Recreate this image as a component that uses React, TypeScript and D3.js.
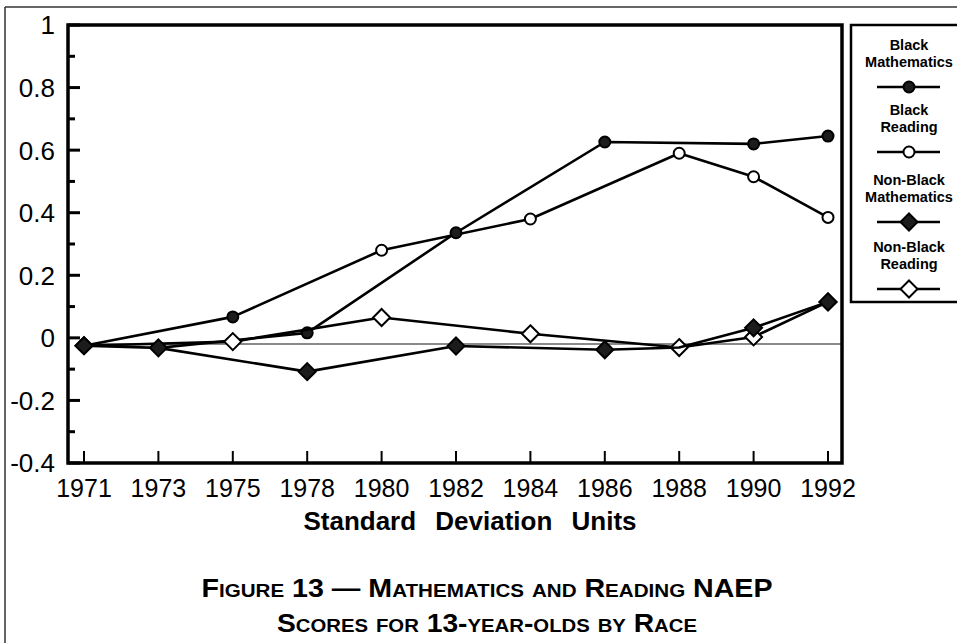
import React, { useEffect, useRef } from "react";
import * as d3 from "d3";

const years = ["1971", "1973", "1975", "1978", "1980", "1982", "1984", "1986", "1988", "1990", "1992"];

const blackMath = [null, -0.032, null, 0.016, null, 0.336, null, 0.626, null, 0.62, 0.645];
const blackReading = [-0.025, null, 0.067, null, 0.28, null, 0.38, null, 0.59, 0.515, 0.385];
const nonBlackMath = [-0.025, -0.032, null, -0.108, null, -0.026, null, -0.038, -0.031, 0.032, 0.115];
const nonBlackReading = [-0.025, null, -0.012, null, 0.065, null, 0.013, null, -0.031, 0.003, 0.115];

// odd marks in the original figure
const blackReadingFilledYears = ["1975"];
const nonBlackMathUnmarkedYears = ["1988"];

const baselineValue = -0.02;

const yMajorTicks = [1, 0.8, 0.6, 0.4, 0.2, 0, -0.2, -0.4];
const yMinorTicks = [0.9, 0.7, 0.5, 0.3, 0.1, -0.1, -0.3];
const yTickLabels = ["1", "0.8", "0.6", "0.4", "0.2", "0", "-0.2", "-0.4"];

const series = [
  { name: "Black Reading", values: blackReading, shape: "circle", filled: false },
  { name: "Black Mathematics", values: blackMath, shape: "circle", filled: true },
  { name: "Non-Black Reading", values: nonBlackReading, shape: "diamond", filled: false },
  { name: "Non-Black Mathematics", values: nonBlackMath, shape: "diamond", filled: true },
];

const legendItems = [
  { lines: ["Black", "Mathematics"], shape: "circle", filled: true },
  { lines: ["Black", "Reading"], shape: "circle", filled: false },
  { lines: ["Non-Black", "Mathematics"], shape: "diamond", filled: true },
  { lines: ["Non-Black", "Reading"], shape: "diamond", filled: false },
];

const font = "'Liberation Sans', Arial, Helvetica, sans-serif";

function drawMarker(g, shape, filled, x, y) {
  const fill = filled ? "#1c1c1c" : "#fff";
  if (shape === "circle") {
    g.append("circle")
      .attr("cx", x)
      .attr("cy", y)
      .attr("r", 5.5)
      .attr("fill", fill)
      .attr("stroke", "#000")
      .attr("stroke-width", 2);
  } else {
    const s = 8.5;
    g.append("path")
      .attr("d", `M${x},${y - s}L${x + s},${y}L${x},${y + s}L${x - s},${y}Z`)
      .attr("fill", fill)
      .attr("stroke", "#000")
      .attr("stroke-width", 2);
  }
}

function Chart() {
  const svgRef = useRef();

  useEffect(() => {
    const svg = d3.select(svgRef.current);
    svg.selectAll("*").remove();

    const left = 68;
    const right = 842;
    const top = 25;
    const bottom = 463;

    const x = d3.scalePoint().domain(years).range([left + 16, right - 14]);
    const y = d3.scaleLinear().domain([-0.4, 1]).range([bottom, top]);

    // outer page frame
    svg.append("line").attr("x1", 5).attr("x2", 957).attr("y1", 7).attr("y2", 7)
      .attr("stroke", "#333").attr("stroke-width", 1.5);
    svg.append("line").attr("x1", 5).attr("x2", 5).attr("y1", 7).attr("y2", 643)
      .attr("stroke", "#333").attr("stroke-width", 1.5);

    // gray reference line
    svg.append("line")
      .attr("x1", x("1971"))
      .attr("x2", right)
      .attr("y1", y(baselineValue))
      .attr("y2", y(baselineValue))
      .attr("stroke", "#8a8a8a")
      .attr("stroke-width", 2);

    const line = d3
      .line()
      .defined((d) => d.v !== null)
      .x((d) => x(d.year))
      .y((d) => y(d.v));

    series.forEach((s) => {
      const pts = s.values.map((v, i) => ({ year: years[i], v })).filter((d) => d.v !== null);
      svg.append("path")
        .attr("d", line(pts))
        .attr("fill", "none")
        .attr("stroke", "#000")
        .attr("stroke-width", 2.6)
        .attr("stroke-linejoin", "round");
      const mg = svg.append("g");
      pts.forEach((d) => {
        if (s.name === "Non-Black Mathematics" && nonBlackMathUnmarkedYears.includes(d.year)) return;
        let filled = s.filled;
        if (s.name === "Black Reading" && blackReadingFilledYears.includes(d.year)) filled = true;
        drawMarker(mg, s.shape, filled, x(d.year), y(d.v));
      });
    });

    // plot frame
    svg.append("rect")
      .attr("x", left)
      .attr("y", top)
      .attr("width", right - left)
      .attr("height", bottom - top)
      .attr("fill", "none")
      .attr("stroke", "#000")
      .attr("stroke-width", 3.5);

    // y ticks
    yMajorTicks.forEach((t, i) => {
      svg.append("line").attr("x1", left).attr("x2", left + 12)
        .attr("y1", y(t)).attr("y2", y(t)).attr("stroke", "#000").attr("stroke-width", 3);
      svg.append("text")
        .attr("x", 55)
        .attr("y", y(t))
        .attr("dy", "0.36em")
        .attr("text-anchor", "end")
        .style("font-family", font)
        .style("font-size", "26px")
        .text(yTickLabels[i]);
    });
    yMinorTicks.forEach((t) => {
      svg.append("line").attr("x1", left).attr("x2", left + 7)
        .attr("y1", y(t)).attr("y2", y(t)).attr("stroke", "#000").attr("stroke-width", 3);
    });

    // x ticks
    years.forEach((yr) => {
      svg.append("line").attr("x1", x(yr)).attr("x2", x(yr))
        .attr("y1", bottom).attr("y2", bottom - 12).attr("stroke", "#000").attr("stroke-width", 2);
      svg.append("text")
        .attr("x", x(yr))
        .attr("y", 497)
        .attr("text-anchor", "middle")
        .style("font-family", font)
        .style("font-size", "25px")
        .text(yr);
    });

    svg.append("text")
      .attr("x", 470)
      .attr("y", 530)
      .attr("text-anchor", "middle")
      .style("font-family", font)
      .style("font-size", "26px")
      .style("font-weight", "bold")
      .style("word-spacing", "12px")
      .text("Standard Deviation Units");

    const titles = [
      { text: "Figure 13 — Mathematics and Reading NAEP", y: 597, w: 571 },
      { text: "Scores for 13-year-olds by Race", y: 632, w: 420 },
    ];
    titles.forEach((t) => {
      svg.append("text")
        .attr("x", 487 - t.w / 2)
        .attr("y", t.y)
        .attr("textLength", t.w)
        .attr("lengthAdjust", "spacingAndGlyphs")
        .style("font-family", font)
        .style("font-size", "25px")
        .style("font-weight", "bold")
        .style("font-variant", "small-caps")
        .text(t.text);
    });

    // legend
    const lg = svg.append("g");
    lg.append("rect")
      .attr("x", 851)
      .attr("y", 25)
      .attr("width", 120)
      .attr("height", 277)
      .attr("fill", "#fff")
      .attr("stroke", "#000")
      .attr("stroke-width", 2.5);
    const itemTop = [50, 115, 185, 252];
    legendItems.forEach((it, i) => {
      const t0 = itemTop[i];
      it.lines.forEach((ln, j) => {
        lg.append("text")
          .attr("x", 909)
          .attr("y", t0 + j * 17)
          .attr("text-anchor", "middle")
          .style("font-family", font)
          .style("font-size", "14.5px")
          .style("font-weight", "bold")
          .text(ln);
      });
      const ly = t0 + 37;
      lg.append("line").attr("x1", 877).attr("x2", 940).attr("y1", ly).attr("y2", ly)
        .attr("stroke", "#000").attr("stroke-width", 2.5);
      drawMarker(lg, it.shape, it.filled, 909, ly);
    });
  }, []);

  return <svg ref={svgRef} width={957} height={643} style={{ position: "absolute", left: 0, top: 0, background: "#fff" }}></svg>;
}

export default function App() {
  return <Chart />;
}
